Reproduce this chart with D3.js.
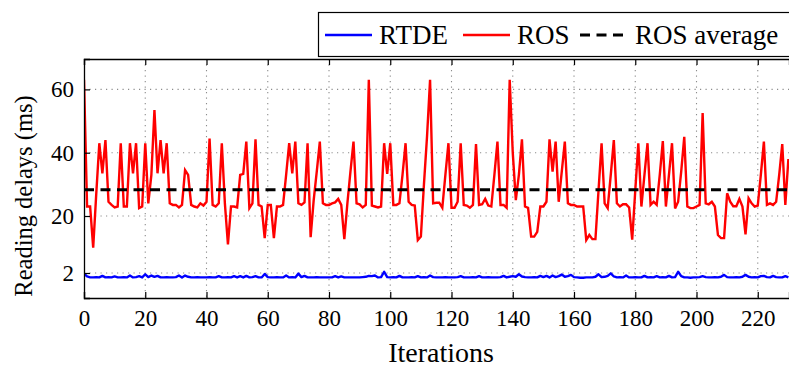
<!DOCTYPE html>
<html>
<head>
<meta charset="utf-8">
<script src="https://cdn.jsdelivr.net/npm/d3@7"></script>
<style>
  body { margin: 0; background: #fff; }
  svg { display: block; }
</style>
</head>
<body>
<svg id="chart" width="789" height="367"></svg>
<script>
// RTDE reading delay per iteration (ms), iterations 0..230
var rtde = [
  1.8, 0.9, 0.6, 0.6, 0.7, 0.6, 1.1, 0.6, 0.7, 0.6,
  0.9, 0.6, 0.6, 0.7, 0.6, 1.2, 0.6, 0.7, 1.0, 0.6,
  1.6, 0.7, 1.2, 0.8, 1.1, 0.6, 0.6, 0.7, 0.6, 0.6,
  0.7, 1.2, 0.6, 1.2, 0.8, 0.6, 0.6, 0.7, 0.6, 0.6,
  0.6, 0.7, 0.6, 0.6, 1.0, 0.6, 0.6, 0.7, 0.6, 1.0,
  0.6, 1.0, 0.6, 1.1, 0.6, 0.7, 1.0, 0.6, 0.6, 1.7,
  0.7, 0.6, 0.6, 0.7, 0.6, 0.6, 1.2, 0.6, 0.7, 0.6,
  1.8, 0.7, 1.1, 0.6, 0.6, 0.6, 0.7, 0.6, 0.6, 0.6,
  0.6, 0.6, 1.0, 0.6, 0.9, 0.6, 0.6, 0.6, 0.6, 0.6,
  0.6, 0.7, 0.8, 1.1, 1.0, 1.2, 0.6, 0.7, 2.4, 0.7,
  0.6, 0.7, 0.6, 1.1, 0.6, 0.6, 0.6, 0.7, 0.6, 1.0,
  0.6, 0.7, 0.6, 1.2, 0.7, 0.6, 0.6, 0.6, 0.7, 0.6,
  0.6, 0.6, 0.7, 1.0, 0.6, 0.6, 0.6, 0.7, 0.6, 1.0,
  0.6, 0.6, 0.7, 0.6, 0.6, 0.6, 0.7, 1.1, 0.6, 0.8,
  1.0, 0.8, 1.6, 0.9, 0.7, 0.6, 0.6, 0.7, 0.6, 1.1,
  0.7, 1.1, 0.6, 1.2, 0.7, 1.0, 1.5, 0.8, 1.0, 1.4,
  0.7, 0.6, 0.5, 0.5, 0.6, 0.6, 0.6, 0.8, 1.6, 0.7,
  0.8, 1.1, 1.9, 0.9, 0.6, 0.7, 0.6, 1.2, 0.6, 0.6,
  0.7, 0.6, 0.6, 1.1, 0.6, 0.7, 0.6, 1.0, 0.6, 0.7,
  0.6, 1.1, 0.6, 0.7, 2.4, 1.0, 0.6, 0.6, 0.5, 0.6,
  0.6, 0.7, 1.0, 0.7, 0.6, 0.6, 0.7, 0.6, 0.8, 1.4,
  0.7, 0.6, 0.6, 0.7, 0.6, 0.8, 1.4, 0.8, 0.6, 0.7,
  0.6, 1.0, 1.1, 0.7, 0.6, 1.1, 0.7, 0.6, 0.6, 1.0,
  0.6
];

// ROS reading delay per iteration (ms), iterations 0..230
var ros = [
  63, 23, 23, 10, 27, 43, 33.5, 44, 24.5, 23.5,
  22.7, 23, 43, 23, 23, 43, 33.5, 43, 22.5, 23,
  43, 24, 33, 53.5, 33.5, 44, 33.5, 43, 24, 23.5,
  23.5, 22.7, 23.5, 34.5, 33, 23.5, 23, 22.7, 24, 23.3,
  24.5, 44.5, 23.5, 23, 24, 43, 24, 11, 23, 23,
  22.7, 33, 33.3, 43.5, 22.5, 24, 44.2, 23.5, 23, 13,
  23.5, 23.5, 13, 23, 23, 23.5, 33, 43, 33.5, 43.5,
  24, 23.5, 24.3, 43, 13.3, 25, 34, 43.5, 24, 23.5,
  23.5, 24, 24.3, 25.4, 23.5, 12.7, 24, 34, 43.5, 24,
  23.7, 22.7, 23.5, 63, 23.3, 23, 22.7, 23, 43, 33.3,
  43, 23.5, 23.5, 24, 33, 43, 24.5, 23.5, 23.3, 12.4,
  13.5, 30, 45, 63, 24, 24.2, 24.2, 22.6, 33, 43,
  22.6, 22.6, 24.5, 43, 23.5, 23.3, 22.6, 23.5, 42.7, 23.5,
  23.7, 25.4, 23.3, 23, 33, 43.5, 23.5, 23.5, 22.6, 63,
  40, 25, 33, 44.2, 23, 22.6, 13.5, 13.5, 15, 23,
  23, 24.5, 44.2, 34, 43.5, 24.5, 34, 43.5, 24, 23.5,
  23.5, 23, 23, 23, 12.4, 14, 12.7, 12.7, 28, 43,
  24, 22.5, 33, 44, 24, 23, 23.7, 23.7, 22.7, 12.5,
  28, 43, 23, 33, 43, 23.5, 24.5, 23.5, 33, 43.7,
  23, 33, 43, 22.4, 24.5, 34, 45, 23, 22.5, 22.5,
  23, 23.5, 52.5, 24, 23.7, 24.5, 23, 14, 13, 13,
  27.2, 24.5, 23.1, 23.1, 25.4, 23, 14.2, 25.6, 24, 23,
  23.3, 33, 43.5, 23.5, 24, 23.5, 24.5, 33, 42.7, 23.5,
  38
];

var rosAverage = 28.3;

var xTicks = [0, 20, 40, 60, 80, 100, 120, 140, 160, 180, 200, 220];
var yTicks = [2, 20, 40, 60];
var seriesNames = ["RTDE", "ROS", "ROS average"];

var FONT = "'Liberation Serif', 'Times New Roman', Times, serif";

var svg = d3.select("#chart"),
    margin = {top: 59, right: 0, bottom: 69, left: 84},
    width = +svg.attr("width") - margin.left - margin.right,
    height = +svg.attr("height") - margin.top - margin.bottom;

var x = d3.scaleLinear().domain([0, 230.2]).range([0, width]);
var y = d3.scaleLinear().domain([-5.9, 69.6]).range([height, 0]);

var g = svg.append("g").attr("transform", "translate(" + margin.left + "," + margin.top + ")");

svg.append("defs").append("clipPath").attr("id", "plotclip")
  .append("rect").attr("x", 0).attr("y", 0).attr("width", width).attr("height", height);

// dotted grid
g.append("g").selectAll("line.vx")
  .data(xTicks.filter(function(d) { return d > 0; }))
  .enter().append("line")
    .attr("x1", function(d) { return x(d); })
    .attr("x2", function(d) { return x(d); })
    .attr("y1", 0).attr("y2", height)
    .attr("stroke", "#8c8c8c").attr("stroke-width", 1.1)
    .attr("stroke-dasharray", "1.2,4.3");

g.append("g").selectAll("line.hy")
  .data(yTicks)
  .enter().append("line")
    .attr("x1", 0).attr("x2", width)
    .attr("y1", function(d) { return y(d); })
    .attr("y2", function(d) { return y(d); })
    .attr("stroke", "#8c8c8c").attr("stroke-width", 1.1)
    .attr("stroke-dasharray", "1.2,4.3");

var line = d3.line()
  .x(function(d, i) { return x(i); })
  .y(function(d) { return y(d); });

var plot = g.append("g").attr("clip-path", "url(#plotclip)");

plot.append("path")
  .datum(rtde)
  .attr("fill", "none")
  .attr("stroke", "#0000ff")
  .attr("stroke-width", 2.4)
  .attr("stroke-linejoin", "round")
  .attr("d", line);

plot.append("path")
  .datum(ros)
  .attr("fill", "none")
  .attr("stroke", "#ff0000")
  .attr("stroke-width", 2.4)
  .attr("stroke-linejoin", "miter")
  .attr("d", line);

plot.append("line")
  .attr("x1", 0).attr("x2", width)
  .attr("y1", y(rosAverage)).attr("y2", y(rosAverage))
  .attr("stroke", "#000")
  .attr("stroke-width", 3)
  .attr("stroke-dasharray", "10,6.5");

// axes
var xAxis = g.append("g")
  .attr("transform", "translate(0," + height + ")")
  .call(d3.axisBottom(x).tickValues(xTicks).tickSize(-6).tickPadding(12).tickFormat(d3.format("d")));

var xTop = g.append("g")
  .call(d3.axisTop(x).tickValues(xTicks).tickSize(-6).tickFormat(""));

var yAxis = g.append("g")
  .call(d3.axisLeft(y).tickValues(yTicks).tickSize(-6).tickPadding(10).tickFormat(d3.format("d")));

[xAxis, xTop, yAxis].forEach(function(a) {
  a.attr("font-family", FONT).attr("font-size", 23);
  a.select(".domain").attr("stroke", "#000").attr("stroke-width", 1.3);
  a.selectAll(".tick line").attr("stroke", "#000").attr("stroke-width", 1.2);
  a.selectAll(".tick text").attr("fill", "#000");
});
xAxis.selectAll(".tick text").attr("dy", "0.71em");

// axis titles
svg.append("text")
  .attr("x", 441).attr("y", 362)
  .attr("text-anchor", "middle")
  .attr("font-family", FONT)
  .attr("font-size", 28)
  .text("Iterations");

svg.append("text")
  .attr("transform", "translate(32,196) rotate(-90)")
  .attr("text-anchor", "middle")
  .attr("font-family", FONT)
  .attr("font-size", 24.5)
  .text("Reading delays (ms)");

// legend
var legend = svg.append("g");
legend.append("rect")
  .attr("x", 318.5).attr("y", 12.5).attr("width", 475).attr("height", 44)
  .attr("fill", "#fff").attr("stroke", "#000").attr("stroke-width", 1.2);

var legendItems = [
  {name: seriesNames[0], color: "#0000ff", dash: null, width: 2.4, x0: 325, x1: 372, tx: 379},
  {name: seriesNames[1], color: "#ff0000", dash: null, width: 2.4, x0: 463, x1: 510, tx: 517},
  {name: seriesNames[2], color: "#000", dash: "10,6.5", width: 3, x0: 580, x1: 627, tx: 635}
];

legendItems.forEach(function(d) {
  legend.append("line")
    .attr("x1", d.x0).attr("x2", d.x1).attr("y1", 35).attr("y2", 35)
    .attr("stroke", d.color).attr("stroke-width", d.width)
    .attr("stroke-dasharray", d.dash);
  legend.append("text")
    .attr("x", d.tx).attr("y", 44)
    .attr("font-family", FONT)
    .attr("font-size", 27)
    .text(d.name);
});
</script>
</body>
</html>
